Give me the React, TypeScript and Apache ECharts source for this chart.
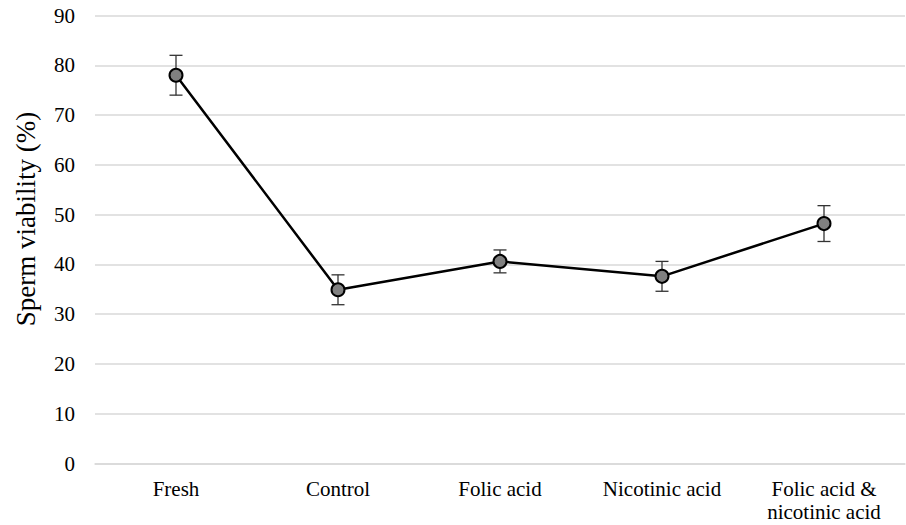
import React, { useEffect, useRef } from "react";
import * as echarts from "echarts";

const categories = ["Fresh", "Control", "Folic acid", "Nicotinic acid", "Folic acid &\nnicotinic acid"];
const viability = [78.0, 34.9, 40.6, 37.6, 48.2];
const errors = [4.0, 3.0, 2.3, 3.0, 3.6];
const yTicks = { min: 0, max: 90, interval: 10 };

export default function App() {
  const ref = useRef<HTMLDivElement>(null);
  useEffect(() => {
    if (!ref.current) return;
    const chart = echarts.init(ref.current, null, { renderer: "svg" });
    const font = "'Liberation Serif', 'Times New Roman', serif";
    chart.setOption({
      animation: false,
      backgroundColor: "#ffffff",
      grid: { left: 95, right: 1, top: 15.5, bottom: 61.5, containLabel: false },
      xAxis: {
        type: "category",
        data: categories,
        boundaryGap: true,
        axisLine: { show: true, lineStyle: { color: "#d9d9d9", width: 1.5 } },
        axisTick: { show: false },
        axisLabel: { color: "#000", fontFamily: font, fontSize: 21, margin: 14, lineHeight: 23, interval: 0 },
      },
      yAxis: {
        type: "value",
        min: yTicks.min,
        max: yTicks.max,
        interval: yTicks.interval,
        axisLine: { show: false },
        axisTick: { show: false },
        splitLine: { lineStyle: { color: "#d9d9d9", width: 1.5 } },
        axisLabel: { color: "#000", fontFamily: font, fontSize: 21, margin: 20 },
      },
      graphic: [
        {
          type: "text",
          x: 26,
          y: 219,
          rotation: Math.PI / 2,
          style: {
            text: "Sperm viability (%)",
            fontFamily: font,
            fontSize: 27,
            fill: "#000",
            align: "center",
            verticalAlign: "middle",
          },
        },
      ],
      series: [
        {
          type: "custom",
          z: 1,
          data: viability.map((v, i) => [i, v - errors[i], v + errors[i]]),
          renderItem: (params: any, api: any) => {
            const x = api.value(0);
            const lo = api.coord([x, api.value(1)]);
            const hi = api.coord([x, api.value(2)]);
            const cap = 6.5;
            const style = { stroke: "#333", lineWidth: 1.3 };
            return {
              type: "group",
              children: [
                { type: "line", shape: { x1: lo[0], y1: lo[1], x2: hi[0], y2: hi[1] }, style },
                { type: "line", shape: { x1: lo[0] - cap, y1: lo[1], x2: lo[0] + cap, y2: lo[1] }, style },
                { type: "line", shape: { x1: hi[0] - cap, y1: hi[1], x2: hi[0] + cap, y2: hi[1] }, style },
              ],
            };
          },
        },
        {
          type: "line",
          z: 3,
          data: viability,
          symbol: "circle",
          symbolSize: 13,
          lineStyle: { color: "#000", width: 2.5 },
          itemStyle: { color: "#808080", borderColor: "#000", borderWidth: 2 },
        },
      ],
    });
    return () => chart.dispose();
  }, []);
  return <div ref={ref} style={{ width: 906, height: 525, position: "absolute", left: 0, top: 0 }} />;
}
